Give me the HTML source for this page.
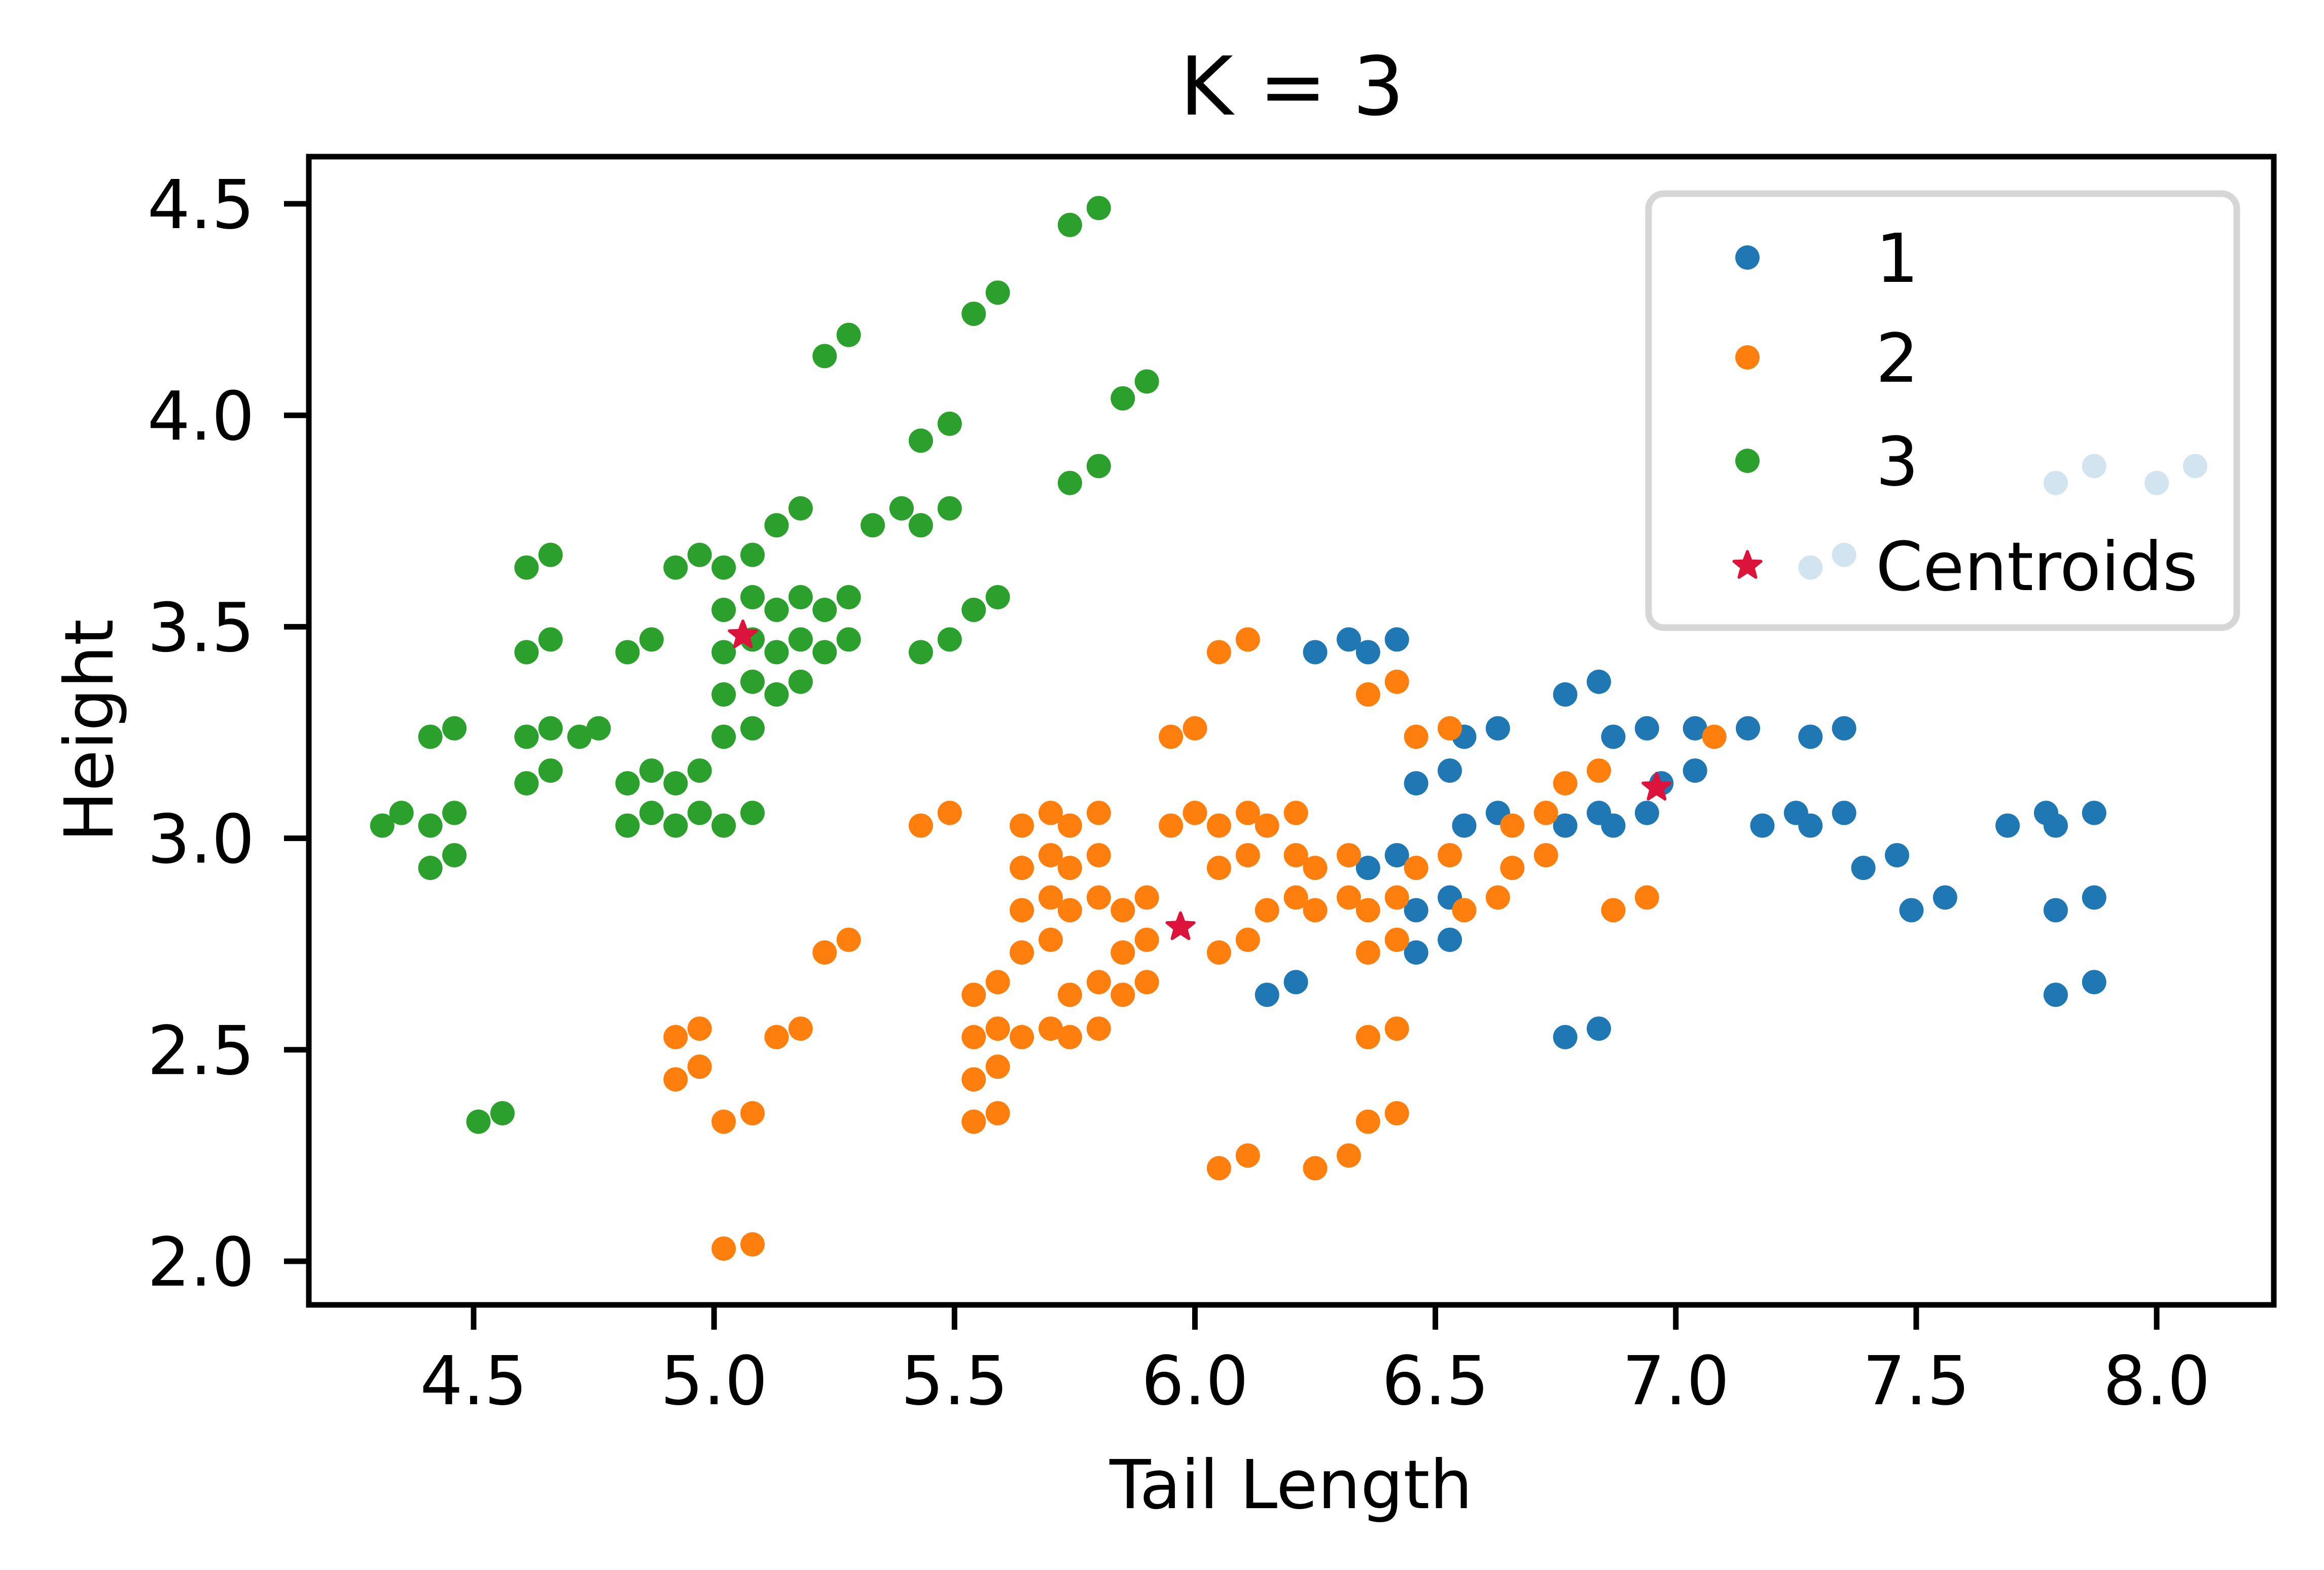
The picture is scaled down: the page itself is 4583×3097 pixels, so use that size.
<!DOCTYPE html>
<html><head><meta charset="utf-8"><style>
html,body{margin:0;padding:0;background:#fff;}
svg{display:block;font-family:"DejaVu Sans","Liberation Sans",sans-serif;}
</style></head><body>
<svg id="chart" width="4583" height="3097" viewBox="0 0 4583 3097" xmlns="http://www.w3.org/2000/svg">
<rect x="0" y="0" width="4583" height="3097" fill="#fff"/>
<text x="2548" y="226" font-size="160" text-anchor="middle">K = 3</text>
<g id="marks"></g>
<g id="axes"></g>
<text x="2546" y="2975" font-size="133" text-anchor="middle">Tail Length</text>
<text x="0" y="0" font-size="133" text-anchor="middle" transform="translate(222,1441) rotate(-90)">Height</text>
<g id="legend"></g>
</svg>
<script>
const xTicks = [4.5, 5.0, 5.5, 6.0, 6.5, 7.0, 7.5, 8.0];
const xTickLabels = ["4.5","5.0","5.5","6.0","6.5","7.0","7.5","8.0"];
const yTicks = [2.0, 2.5, 3.0, 3.5, 4.0, 4.5];
const yTickLabels = ["2.0","2.5","3.0","3.5","4.0","4.5"];
const seriesNames = ["1","2","3","Centroids"];

const cluster1X = [6.25,6.32,6.36,6.42,6.36,6.42,6.46,6.53,6.46,6.53,6.46,6.53,6.56,6.63,6.56,6.63,6.15,6.21,6.77,6.84,6.77,6.84,6.77,6.84,6.87,6.87,6.94,6.94,6.97,7.04,7.04,7.15,7.18,7.25,7.28,7.28,7.35,7.35,7.39,7.46,7.49,7.56,7.69,7.77,7.79,7.79,7.87,7.87,7.79,7.87,7.28,7.35,7.79,7.87,8.00,8.08];
const cluster1Y = [3.44,3.47,3.44,3.47,2.93,2.96,3.13,3.16,2.83,2.86,2.73,2.76,3.24,3.26,3.03,3.06,2.63,2.66,3.34,3.37,3.03,3.06,2.53,2.55,3.24,3.03,3.26,3.06,3.13,3.16,3.26,3.26,3.03,3.06,3.24,3.03,3.26,3.06,2.93,2.96,2.83,2.86,3.03,3.06,3.03,2.83,3.06,2.86,2.63,2.66,3.64,3.67,3.84,3.88,3.84,3.88];

const cluster2X = [4.92,4.97,4.92,4.97,5.02,5.08,5.02,5.08,5.13,5.18,5.23,5.28,5.43,5.49,5.54,5.59,5.54,5.59,5.54,5.59,5.54,5.59,5.64,5.70,5.64,5.70,5.64,5.70,5.64,5.70,5.64,5.70,5.74,5.80,5.74,5.80,5.74,5.80,5.74,5.80,5.74,5.80,5.85,5.90,5.85,5.90,5.85,5.90,5.95,6.00,5.95,6.00,6.05,6.11,6.05,6.05,6.11,6.05,6.11,6.05,6.11,6.15,6.15,6.11,6.21,6.21,6.21,6.25,6.25,6.25,6.32,6.32,6.32,6.36,6.42,6.36,6.42,6.36,6.42,6.36,6.42,6.36,6.42,6.46,6.46,6.53,6.53,6.56,6.63,6.66,6.66,6.73,6.73,6.77,6.84,6.87,6.94,7.08];
const cluster2Y = [2.53,2.55,2.43,2.46,2.33,2.35,2.03,2.04,2.53,2.55,2.73,2.76,3.03,3.06,2.63,2.66,2.53,2.55,2.43,2.46,2.33,2.35,3.03,3.06,2.93,2.96,2.83,2.86,2.73,2.76,2.53,2.55,3.03,3.06,2.93,2.96,2.83,2.86,2.63,2.66,2.53,2.55,2.83,2.86,2.73,2.76,2.63,2.66,3.24,3.26,3.03,3.06,3.44,3.47,3.03,2.93,2.96,2.73,2.76,2.22,2.25,3.03,2.83,3.06,2.86,2.96,3.06,2.93,2.83,2.22,2.25,2.96,2.86,3.34,3.37,2.83,2.86,2.73,2.76,2.53,2.55,2.33,2.35,3.24,2.93,3.26,2.96,2.83,2.86,3.03,2.93,3.06,2.96,3.13,3.16,2.83,2.86,3.24];

const cluster3X = [4.31,4.35,4.41,4.46,4.41,4.46,4.41,4.46,4.51,4.56,4.61,4.66,4.61,4.66,4.61,4.66,4.61,4.66,4.72,4.76,4.82,4.87,4.82,4.87,4.82,4.87,4.92,4.97,4.92,4.97,4.92,4.97,5.02,5.08,5.02,5.08,5.02,5.08,5.02,5.08,5.02,5.08,5.02,5.08,5.13,5.18,5.13,5.18,5.13,5.18,5.13,5.18,5.23,5.28,5.23,5.28,5.23,5.28,5.33,5.39,5.43,5.49,5.43,5.49,5.43,5.49,5.54,5.59,5.54,5.59,5.74,5.80,5.74,5.80,5.85,5.90];
const cluster3Y = [3.03,3.06,3.24,3.26,3.03,3.06,2.93,2.96,2.33,2.35,3.64,3.67,3.44,3.47,3.24,3.26,3.13,3.16,3.24,3.26,3.44,3.47,3.13,3.16,3.03,3.06,3.64,3.67,3.13,3.16,3.03,3.06,3.64,3.67,3.54,3.57,3.44,3.47,3.34,3.37,3.24,3.26,3.03,3.06,3.74,3.78,3.54,3.57,3.44,3.47,3.34,3.37,4.14,4.19,3.54,3.57,3.44,3.47,3.74,3.78,3.94,3.98,3.74,3.78,3.44,3.47,4.24,4.29,3.54,3.57,4.45,4.49,3.84,3.88,4.04,4.08];

const centroidX = [5.06, 5.97, 6.96];
const centroidY = [3.48, 2.79, 3.12];

const NS = "http://www.w3.org/2000/svg";
const AX = {left:609, right:4484, top:309, bottom:2574};
function xScale(v){ return 934 + (v - 4.5) * 948.3; }
function yScale(v){ return 402 + (4.5 - v) * 834.4; }
function mk(tag, attrs, parent){ const e=document.createElementNS(NS,tag); for(const k in attrs) e.setAttribute(k, attrs[k]); parent.appendChild(e); return e; }
function starPath(cx, cy, R){
  const r = R*0.42; let d="";
  for(let i=0;i<10;i++){ const a=-Math.PI/2+i*Math.PI/5; const rr=i%2?r:R;
    d += (i?"L":"M")+(cx+rr*Math.cos(a)).toFixed(1)+","+(cy+rr*Math.sin(a)).toFixed(1); }
  return d+"Z";
}
const marks = document.getElementById("marks");
const colors = ["#1f77b4","#ff7f0e","#2ca02c"];
const clustersX = [cluster1X, cluster2X, cluster3X];
const clustersY = [cluster1Y, cluster2Y, cluster3Y];
for(let c=0;c<3;c++){
  const g = mk("g", {}, marks);
  
  
  for(let i=0;i<clustersX[c].length;i++){
    const p = mk("circle", {cx:xScale(clustersX[c][i]), cy:yScale(clustersY[c][i]), r:24, fill:colors[c]}, g);
    
    
  }
}
const cg = mk("g", {}, marks);


for(let i=0;i<centroidX.length;i++){
  const s = mk("path", {d:starPath(xScale(centroidX[i]), yScale(centroidY[i]), 28), fill:"#dc143c", stroke:"#dc143c", "stroke-width":6, "stroke-linejoin":"round"}, cg);
  
  
}

// legend
const lg = document.getElementById("legend");
const lbox = mk("rect", {x:3251, y:382, width:1160, height:856, rx:30, ry:30, fill:"#fff", "fill-opacity":0.8, stroke:"#d6d6d6", "stroke-width":13}, lg);


const rowsY = [508, 705, 909, 1116];
for(let i=0;i<4;i++){
  let m;
  if(i<3){ m = mk("circle", {cx:3446, cy:rowsY[i], r:24, fill:colors[i]}, lg); }
  else { m = mk("path", {d:starPath(3446, rowsY[i], 28), fill:"#dc143c", stroke:"#dc143c", "stroke-width":6, "stroke-linejoin":"round"}, lg); }
  
  
  const t = mk("text", {x:3699, y:rowsY[i]+48, "font-size":133}, lg);
  t.textContent = seriesNames[i];
  
  
}

// axes
const ax = document.getElementById("axes");
const frame = mk("rect", {x:AX.left, y:AX.top, width:AX.right-AX.left, height:AX.bottom-AX.top, fill:"none", stroke:"#000", "stroke-width":11}, ax);


for(let i=0;i<xTicks.length;i++){
  const x = xScale(xTicks[i]);
  const t = mk("line", {x1:x, y1:AX.bottom, x2:x, y2:AX.bottom+49, stroke:"#000", "stroke-width":11}, ax);
  
  
  const l = mk("text", {x:x, y:2770, "font-size":133, "text-anchor":"middle"}, ax);
  l.textContent = xTickLabels[i];
  
  
}
for(let i=0;i<yTicks.length;i++){
  const y = yScale(yTicks[i]);
  const t = mk("line", {x1:AX.left-49, y1:y, x2:AX.left, y2:y, stroke:"#000", "stroke-width":11}, ax);
  
  
  const l = mk("text", {x:502, y:y+48, "font-size":133, "text-anchor":"end"}, ax);
  l.textContent = yTickLabels[i];
  
  
}
</script>
</body></html>
